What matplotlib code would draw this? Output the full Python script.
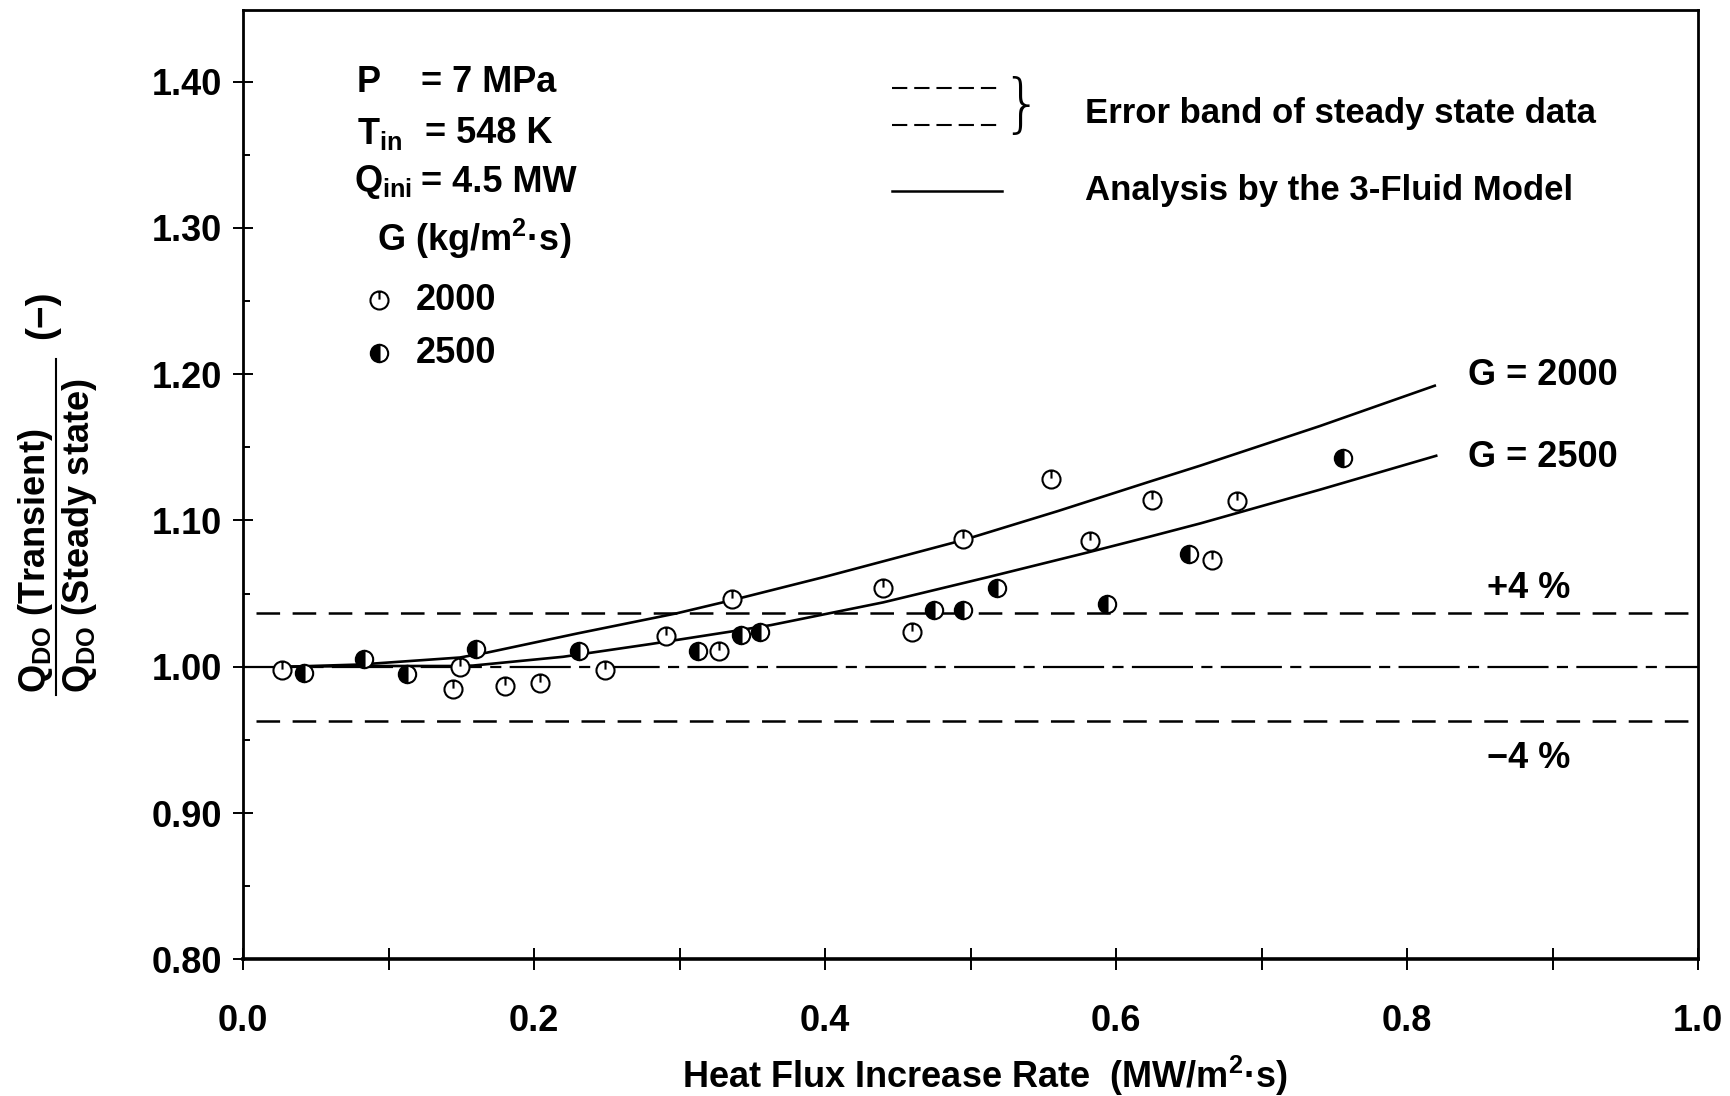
import matplotlib.pyplot as plt
from matplotlib.path import Path
from matplotlib.lines import Line2D

plt.rcParams['font.family'] = ['Liberation Sans', 'DejaVu Sans']
plt.rcParams['font.weight'] = 'bold'
plt.rcParams['mathtext.fontset'] = 'custom'
plt.rcParams['mathtext.rm'] = 'Liberation Sans:bold'
plt.rcParams['mathtext.it'] = 'Liberation Sans:bold'
plt.rcParams['mathtext.bf'] = 'Liberation Sans:bold'
plt.rcParams['lines.scale_dashes'] = False

# measured points, G = 2000 kg/m2s (open symbols)
x_2000 = [0.027, 0.149, 0.144, 0.180, 0.204, 0.249, 0.291, 0.327, 0.336,
          0.440, 0.460, 0.495, 0.555, 0.582, 0.625, 0.666, 0.683]
y_2000 = [0.998, 1.000, 0.985, 0.987, 0.989, 0.998, 1.021, 1.011, 1.046,
          1.054, 1.024, 1.087, 1.128, 1.086, 1.114, 1.073, 1.113]

# measured points, G = 2500 kg/m2s (half filled symbols)
x_2500 = [0.042, 0.083, 0.113, 0.160, 0.231, 0.313, 0.342, 0.355, 0.475,
          0.495, 0.518, 0.594, 0.650, 0.756]
y_2500 = [0.996, 1.005, 0.995, 1.012, 1.011, 1.011, 1.022, 1.024, 1.039,
          1.039, 1.054, 1.043, 1.077, 1.143]

# 3-fluid model curves
curve_x_2000 = [0.03, 0.08, 0.149, 0.1675, 0.23, 0.298, 0.336, 0.40, 0.495,
                0.56, 0.623, 0.658, 0.74, 0.819]
curve_y_2000 = [1.000, 1.0015, 1.0063, 1.0096, 1.0228, 1.0365, 1.0455, 1.0615,
                1.0866, 1.1064, 1.1265, 1.1375, 1.1645, 1.1921]
curve_x_2500 = [0.03, 0.085, 0.148, 0.158, 0.22, 0.28, 0.335, 0.363, 0.44,
                0.513, 0.58, 0.623, 0.658, 0.74, 0.82]
curve_y_2500 = [1.000, 1.0005, 1.0005, 1.0008, 1.0068, 1.0155, 1.024, 1.0285,
                1.044, 1.0615, 1.078, 1.0889, 1.098, 1.121, 1.1442]

# error band of steady state data
band_x = [0.009, 1.0]
band_upper = [1.037, 1.037]
band_lower = [0.963, 0.963]
steady_x = [0.0, 1.0]
steady_y = [1.0, 1.0]

x_ticks = [0.0, 0.2, 0.4, 0.6, 0.8, 1.0]
x_minor = [0.1, 0.3, 0.5, 0.7, 0.9]
y_ticks = [0.80, 0.90, 1.00, 1.10, 1.20, 1.30, 1.40]
y_minor = [0.85, 0.95, 1.05, 1.15, 1.25, 1.35]

# open circle with a short tick from the top to the centre
open_marker = Path.make_compound_path(
    Path.unit_circle(),
    Path([[0.0, 1.0], [0.0, 0.1]], [Path.MOVETO, Path.LINETO]))

open_style = dict(linestyle='none', marker=open_marker, markersize=13,
                  markerfacecolor='white', markeredgecolor='black',
                  markeredgewidth=1.5, zorder=5)
half_style = dict(linestyle='none', marker='o', markersize=12.5, fillstyle='left',
                  markerfacecolor='black', markerfacecoloralt='white',
                  markeredgecolor='black', markeredgewidth=1.5, zorder=5)

fig = plt.figure(figsize=(17.31, 10.96), dpi=100)
ax = fig.add_axes([0.1404, 0.1247, 0.8406, 0.8663])

ax.plot(band_x, band_upper, color='black', lw=1.8, dashes=(17, 9))
ax.plot(band_x, band_lower, color='black', lw=1.8, dashes=(17, 9))
ax.plot(steady_x, steady_y, color='black', lw=1.6, dashes=(44, 6, 8, 6))

ax.plot(curve_x_2000, curve_y_2000, color='black', lw=1.9, zorder=3)
ax.plot(curve_x_2500, curve_y_2500, color='black', lw=1.9, zorder=3)

ax.plot(x_2000, y_2000, **open_style)
ax.plot(x_2500, y_2500, **half_style)

ax.set_xlim(0.0, 1.0)
ax.set_ylim(0.80, 1.449)
ax.set_xticks(x_ticks)
ax.set_xticklabels([f"{v:.1f}" for v in x_ticks])
ax.set_xticks(x_minor, minor=True)
ax.set_yticks(y_ticks)
ax.set_yticklabels([f"{v:.2f}" for v in y_ticks])
ax.set_yticks(y_minor, minor=True)

ax.tick_params(which='both', labelsize=26, width=1.4, color='black')
ax.tick_params(axis='x', which='both', direction='inout', length=16, pad=24)
ax.tick_params(axis='y', which='major', direction='inout', length=14, pad=8)
ax.tick_params(axis='y', which='minor', direction='in', length=5)
for lab in ax.get_xticklabels() + ax.get_yticklabels():
    lab.set_fontweight('bold')

for side in ['left', 'top', 'right']:
    ax.spines[side].set_linewidth(2.0)
ax.spines['bottom'].set_linewidth(2.6)

# condition block, top left
tr = ax.transAxes
fs = 26
ax.text(0.078, 0.923, "P", transform=tr, fontsize=fs, va='center')
ax.text(0.122, 0.923, "= 7 MPa", transform=tr, fontsize=fs, va='center')
ax.text(0.078, 0.8696, r"T$_{\rm in}$", transform=tr, fontsize=fs, va='center')
ax.text(0.125, 0.8696, "= 548 K", transform=tr, fontsize=fs, va='center')
ax.text(0.076, 0.8186, r"Q$_{\rm ini}$", transform=tr, fontsize=fs, va='center')
ax.text(0.122, 0.8186, "= 4.5 MW", transform=tr, fontsize=fs, va='center')
ax.text(0.0924, 0.7592, r"G (kg/m$^{2}$·s)", transform=tr, fontsize=fs, va='center')
ax.add_line(Line2D([0.0933], [0.6944], transform=tr, clip_on=False, **open_style))
ax.add_line(Line2D([0.0933], [0.6385], transform=tr, clip_on=False, **half_style))
ax.text(0.1189, 0.6944, "2000", transform=tr, fontsize=fs, va='center')
ax.text(0.1189, 0.6385, "2500", transform=tr, fontsize=fs, va='center')

# key, top right
ax.add_line(Line2D([0.446, 0.5196], [0.9176, 0.9176], transform=tr,
                   color='black', lw=1.5, dashes=(11, 5)))
ax.add_line(Line2D([0.446, 0.5216], [0.8789, 0.8789], transform=tr,
                   color='black', lw=1.5, dashes=(11, 5)))
ax.text(0.535, 0.8975, "}", transform=tr, fontsize=46, fontweight='light',
        family='DejaVu Sans', ha='center', va='center')
ax.text(0.5787, 0.8906, "Error band of steady state data", transform=tr,
        fontsize=25, va='center')
ax.add_line(Line2D([0.446, 0.5216], [0.8092, 0.8092], transform=tr,
                   color='black', lw=1.8))
ax.text(0.5787, 0.8102, "Analysis by the 3-Fluid Model", transform=tr,
        fontsize=25, va='center')

# curve and band labels
ax.text(0.842, 0.6150, "G = 2000", transform=tr, fontsize=fs, va='center')
ax.text(0.842, 0.5290, "G = 2500", transform=tr, fontsize=fs, va='center')
ax.text(0.855, 0.3906, "+4 %", transform=tr, fontsize=fs, va='center')
ax.text(0.855, 0.2116, "\u22124 %", transform=tr, fontsize=fs, va='center')

# axis titles
fig.text(0.569, 0.018, r"Heat Flux Increase Rate  (MW/m$^{2}$·s)",
         fontsize=26, ha='center', va='center')
fig.text(0.0205, 0.368, r"Q$_{\rm DO}$ (Transient)", rotation=90,
         fontsize=26, ha='center', va='bottom')
fig.text(0.0462, 0.368, r"Q$_{\rm DO}$ (Steady state)", rotation=90,
         fontsize=26, ha='center', va='bottom')
fig.add_artist(Line2D([0.0322, 0.0322], [0.366, 0.672], transform=fig.transFigure,
                      color='black', lw=1.5))
fig.text(0.0245, 0.7126, "(\u2212)", rotation=90, fontsize=28,
         ha='center', va='center')

fig.savefig('out.png', dpi=100)
